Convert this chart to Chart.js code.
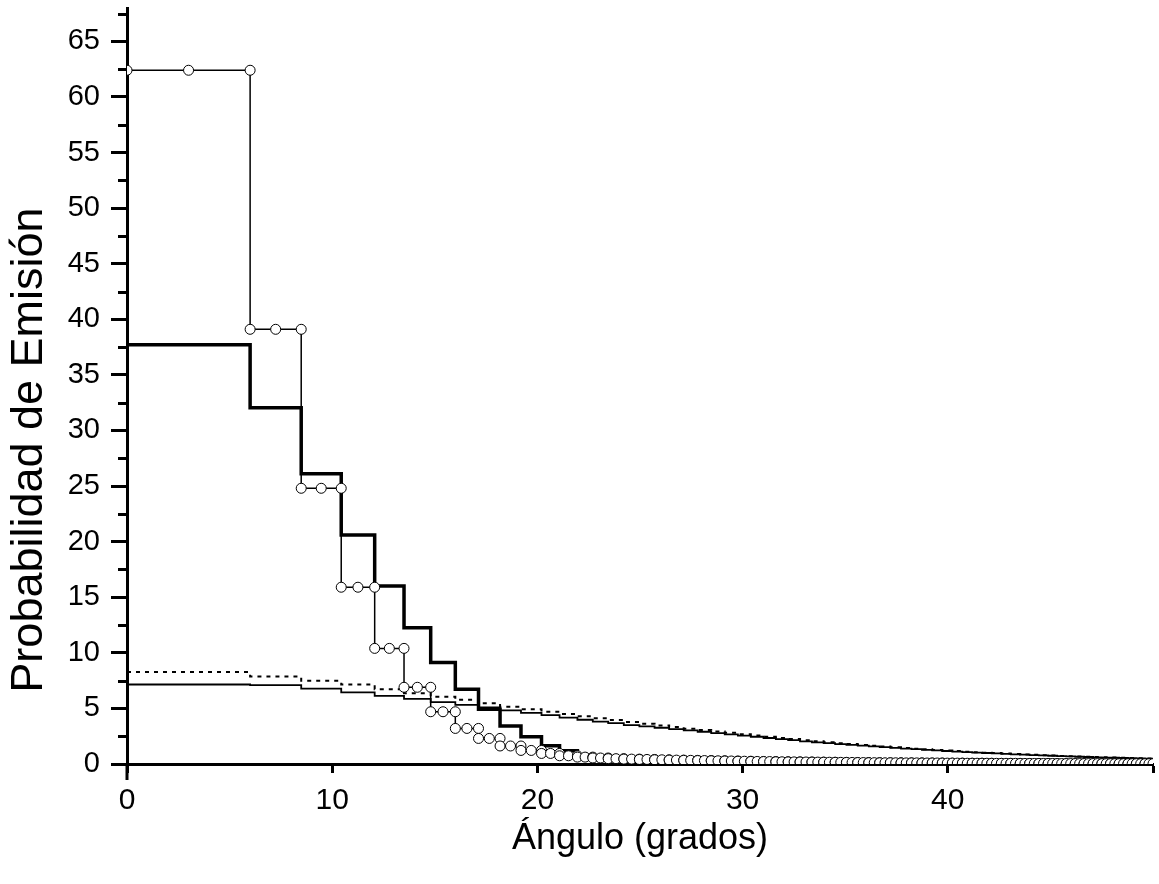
<!DOCTYPE html>
<html>
<head>
<meta charset="utf-8">
<script src="https://cdn.jsdelivr.net/npm/chart.js@4/dist/chart.umd.min.js"></script>
<style>
  html, body { margin: 0; padding: 0; background: #ffffff; }
  #wrap { width: 1159px; height: 884px; position: relative; }
</style>
</head>
<body>
<div id="wrap"><canvas id="chart"></canvas></div>
<script>
// Angular bin edges (degrees); each series holds one value per bin.
const binEdges = [0, 6.0, 8.49, 10.44, 12.07, 13.5, 14.8, 16.0, 17.13, 18.18, 19.2, 20.2, 21.08, 21.95,
  22.7, 23.45, 24.21, 24.97, 25.71, 26.42, 27.13, 27.81, 28.47, 29.13, 29.77, 30.40, 31.02, 31.62,
  32.22, 32.80, 33.38, 33.95, 34.51, 35.06, 35.61, 36.15, 36.68, 37.20, 37.72, 38.23, 38.74, 39.24,
  39.73, 40.22, 40.71, 41.19, 41.67, 42.14, 42.61, 43.07, 43.53, 43.99, 44.44, 44.89, 45.33, 45.77,
  46.21, 46.64, 47.08, 47.51, 47.93, 48.35, 48.78, 49.19, 49.61, 50.0];

// Open-circle series
const circleSeries = [62.4, 39.1, 24.8, 15.9, 10.4, 6.9, 4.7, 3.2, 2.3, 1.62, 1.22, 0.95, 0.74,
  0.62, 0.54, 0.48, 0.44, 0.41, 0.38, 0.35, 0.33, 0.31, 0.29, 0.27, 0.25,
  0.23, 0.22, 0.20, 0.19, 0.18, 0.17, 0.16, 0.15, 0.14, 0.13,
  0.12, 0.11, 0.11, 0.10, 0.10, 0.09, 0.09, 0.08, 0.08, 0.07,
  0.07, 0.07, 0.06, 0.06, 0.06, 0.05, 0.05, 0.05, 0.05, 0.04,
  0.04, 0.04, 0.04, 0.04, 0.03, 0.03, 0.03, 0.03, 0.03, 0.03];

// Thick step series
const thickSeries = [37.7, 32.05, 26.1, 20.6, 16.0, 12.25, 9.13, 6.73, 4.93, 3.42, 2.45, 1.65, 1.2,
  0.8, 0.5, 0.3, 0.18, 0.1, 0.06, 0.03, 0.02, 0.01, 0.01, 0, 0,
  0, 0, 0, 0, 0, 0, 0, 0, 0, 0,
  0, 0, 0, 0, 0, 0, 0, 0, 0, 0,
  0, 0, 0, 0, 0, 0, 0, 0, 0, 0,
  0, 0, 0, 0, 0, 0, 0, 0, 0, 0];

// Thin solid step series
const thinSeries = [7.15, 7.1, 6.78, 6.44, 6.13, 5.86, 5.56, 5.32, 5.08, 4.82, 4.6, 4.4, 4.17,
  3.98, 3.82, 3.67, 3.5, 3.38, 3.26, 3.14, 3.02, 2.9, 2.78, 2.67, 2.56,
  2.45, 2.34, 2.24, 2.14, 2.04, 1.95, 1.87, 1.79, 1.72, 1.65,
  1.58, 1.51, 1.45, 1.39, 1.33, 1.27, 1.22, 1.17, 1.12, 1.07,
  1.03, 0.99, 0.95, 0.91, 0.87, 0.84, 0.8, 0.77, 0.74, 0.71,
  0.68, 0.65, 0.63, 0.6, 0.58, 0.56, 0.54, 0.52, 0.5, 0.48];

// Dotted step series
const dottedSeries = [8.28, 7.87, 7.49, 7.14, 6.73, 6.37, 6.06, 5.77, 5.47, 5.16, 4.93, 4.71, 4.5,
  4.3, 4.12, 3.95, 3.78, 3.62, 3.47, 3.32, 3.18, 3.05, 2.92, 2.8, 2.68,
  2.56, 2.45, 2.34, 2.24, 2.14, 2.04, 1.95, 1.87, 1.79, 1.71,
  1.64, 1.57, 1.5, 1.44, 1.38, 1.32, 1.26, 1.21, 1.16, 1.11,
  1.06, 1.02, 0.98, 0.94, 0.9, 0.86, 0.83, 0.79, 0.76, 0.73,
  0.7, 0.67, 0.65, 0.62, 0.6, 0.58, 0.56, 0.54, 0.52, 0.5];

// Axis ticks and titles
const xTickValues = [0, 10, 20, 30, 40, 50];
const xTickLabels = ['0', '10', '20', '30', '40', ''];
const yTickValues = [0, 5, 10, 15, 20, 25, 30, 35, 40, 45, 50, 55, 60, 65];
const yTickLabels = ['0', '5', '10', '15', '20', '25', '30', '35', '40', '45', '50', '55', '60', '65'];
const yMinorTickValues = [2.5, 7.5, 12.5, 17.5, 22.5, 27.5, 32.5, 37.5, 42.5, 47.5, 52.5, 57.5, 62.5, 67.5];
const xTitle = 'Ángulo (grados)';
const yTitle = 'Probabilidad de Emisión';

const FONT = '"Liberation Sans", Arial, Helvetica, sans-serif';

// Step outline: one point per bin start plus the closing edge.
function stepPoints(values) {
  const pts = values.map((v, i) => ({ x: binEdges[i], y: v }));
  pts.push({ x: binEdges[values.length], y: values[values.length - 1] });
  return pts;
}

// Markers at the start, centre and end of every bin.
function binMarkerPoints(values) {
  const pts = [];
  values.forEach((v, i) => {
    const a = binEdges[i], b = binEdges[i + 1];
    pts.push({ x: a, y: v }, { x: (a + b) / 2, y: v }, { x: b, y: v });
  });
  return pts;
}

// Short minor ticks on the vertical axis and the long tick under the origin.
const minorTicks = {
  id: 'minorTicks',
  afterDraw(chart) {
    const { ctx } = chart;
    const y = chart.scales.y, x = chart.scales.x;
    const left = chart.chartArea.left;
    ctx.save();
    ctx.strokeStyle = '#000';
    ctx.lineWidth = 3;
    ctx.beginPath();
    yMinorTickValues.forEach(v => {
      const py = Math.round(y.getPixelForValue(v)) + 0.5;
      ctx.moveTo(left - 9, py);
      ctx.lineTo(left, py);
    });
    const px0 = x.getPixelForValue(0);
    const py0 = y.getPixelForValue(0);
    ctx.moveTo(px0, py0);
    ctx.lineTo(px0, py0 + 16);
    ctx.stroke();
    ctx.restore();
  }
};

// Vertical axis title, set lower than the plot centre.
const yAxisTitle = {
  id: 'yAxisTitle',
  afterDraw(chart) {
    const { ctx } = chart;
    ctx.save();
    ctx.translate(42, 450);
    ctx.rotate(-Math.PI / 2);
    ctx.font = '45px ' + FONT;
    ctx.fillStyle = '#000';
    ctx.textAlign = 'center';
    ctx.textBaseline = 'alphabetic';
    ctx.fillText(yTitle, 0, 0);
    ctx.restore();
  }
};

new Chart(document.getElementById('chart'), {
  type: 'line',
  data: {
    datasets: [
      {
        data: binMarkerPoints(circleSeries),
        borderColor: '#000', borderWidth: 1.5,
        pointRadius: 5, pointBackgroundColor: '#fff', pointBorderColor: '#000', pointBorderWidth: 1,
        order: 0, clip: 0
      },
      {
        data: stepPoints(thickSeries), stepped: 'before',
        borderColor: '#000', borderWidth: 3.5, pointRadius: 0, order: 1, clip: 0
      },
      {
        data: stepPoints(thinSeries), stepped: 'before',
        borderColor: '#000', borderWidth: 1.8, pointRadius: 0, order: 2, clip: 0
      },
      {
        data: stepPoints(dottedSeries), stepped: 'before',
        borderColor: '#000', borderWidth: 2, borderDash: [4, 5], pointRadius: 0, order: 3, clip: 0
      }
    ]
  },
  options: {
    responsive: true,
    maintainAspectRatio: false,
    animation: false,
    events: [],
    layout: { padding: { top: 8, right: 6, left: 0, bottom: 0 } },
    plugins: { legend: { display: false }, tooltip: { enabled: false } },
    scales: {
      x: {
        type: 'linear', min: 0, max: 50, z: 1,
        afterFit(scale) { scale.height = 120; scale.paddingLeft = 0; scale.paddingRight = 0; },
        afterBuildTicks(scale) { scale.ticks = xTickValues.map(v => ({ value: v })); },
        ticks: {
          color: '#000', font: { family: FONT, size: 30 }, padding: 10, maxRotation: 0,
          callback: (v) => xTickLabels[xTickValues.indexOf(v)] ?? ''
        },
        grid: { drawOnChartArea: false, drawTicks: true, tickLength: 9, tickWidth: 3, tickColor: '#000' },
        border: { display: true, color: '#000', width: 3 },
        title: { display: true, text: xTitle, color: '#000', font: { family: FONT, size: 36 }, padding: { top: 0, bottom: 23 } }
      },
      y: {
        type: 'linear', min: 0, max: 68, z: 1,
        afterFit(scale) { scale.width = 127; scale.paddingTop = 0; scale.paddingBottom = 0; },
        afterBuildTicks(scale) { scale.ticks = yTickValues.map(v => ({ value: v })); },
        ticks: {
          color: '#000', font: { family: FONT, size: 29 }, padding: 11,
          callback: (v) => yTickLabels[yTickValues.indexOf(v)] ?? ''
        },
        grid: { drawOnChartArea: false, drawTicks: true, tickLength: 16, tickWidth: 3, tickColor: '#000' },
        border: { display: true, color: '#000', width: 3 },
        title: { display: false, text: yTitle }
      }
    }
  },
  plugins: [minorTicks, yAxisTitle]
});
</script>
</body>
</html>
